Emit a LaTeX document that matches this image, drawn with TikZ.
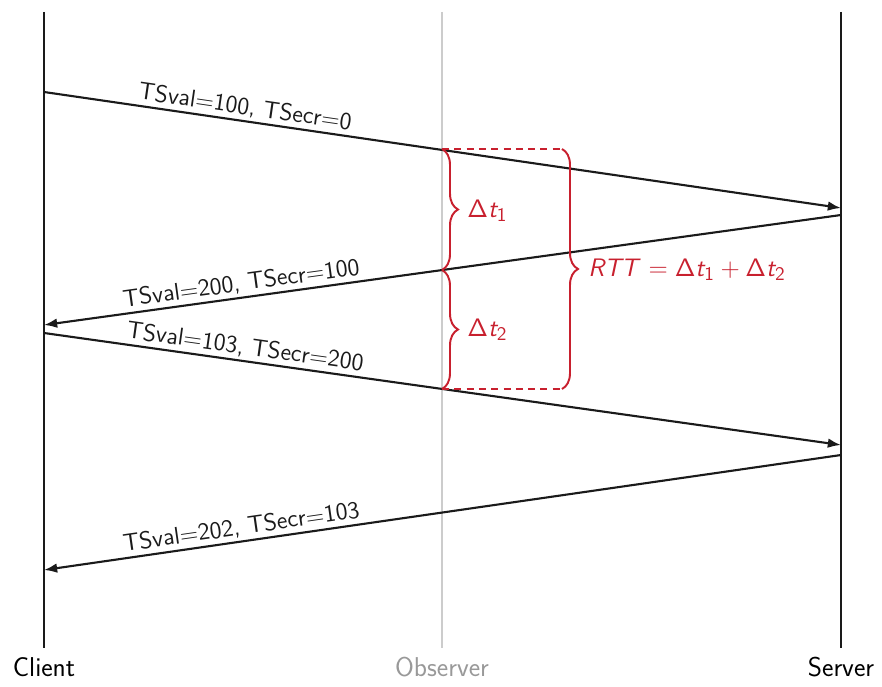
\documentclass[tikz,border=0pt]{standalone}
\usetikzlibrary{arrows.meta,decorations.pathreplacing}
\renewcommand{\familydefault}{\sfdefault}
\DeclareMathAlphabet{\mathsfup}{OT1}{cmss}{m}{n}
\DeclareMathAlphabet{\mathsfit}{OT1}{cmss}{m}{sl}
\newcommand{\dt}[1]{\mathsfup{\Delta}\mathsfit{t}_{\mathsfup{#1}}}
\definecolor{lineblack}{HTML}{1A1A1A}
\definecolor{observerline}{HTML}{CCCCCC}
\definecolor{observertext}{HTML}{999999}
\definecolor{rttred}{HTML}{C8202E}
\tikzset{
  lifeline/.style={draw=lineblack, line width=1.4pt},
  obsline/.style={draw=observerline, line width=1.2pt},
  msg/.style={draw=lineblack, line width=1.2pt, -{Latex[length=7.5pt,width=5.5pt]}},
  msglabel/.style={above, sloped, font=\fontsize{13.8}{16}\selectfont, text=lineblack, inner sep=1.5pt},
  endlabel/.style={anchor=base, font=\fontsize{15.5}{18}\selectfont},
  rttbrace/.style={draw=rttred, line width=1.1pt, decorate, decoration={brace, amplitude=3.2mm}},
  rttguide/.style={draw=rttred, line width=1pt, dash pattern=on 4pt off 3pt},
  rttlabel/.style={anchor=west, inner sep=0pt, text=rttred, font=\fontsize{15.5}{18}\selectfont},
}

\begin{document}
\begin{tikzpicture}[x=0.2mm, y=-0.2mm]
    \useasboundingbox (0,0) rectangle (882,687);
    % lifelines
    \coordinate (client top) at (44,12);
    \coordinate (client bottom) at (44,648);
    \coordinate (obs top) at (442,12);
    \coordinate (obs bottom) at (442,648);
    \coordinate (server top) at (841,12);
    \coordinate (server bottom) at (841,648);
    \draw[lifeline] (client top) -- (client bottom);
    \draw[obsline] (obs top) -- (obs bottom);
    \draw[lifeline] (server top) -- (server bottom);
    \node[endlabel] (client) at (44,676) {Client};
    \node[endlabel, text=observertext] (observer) at (442,676) {Observer};
    \node[endlabel] (server) at (841,676) {Server};
    % message end points
    \coordinate (c1) at (44,92);
    \coordinate (s1) at (841,208);
    \coordinate (s2) at (841,215);
    \coordinate (c2) at (44,325);
    \coordinate (c3) at (44,333);
    \coordinate (s3) at (841,445);
    \coordinate (s4) at (841,455);
    \coordinate (c4) at (44,570);
    \draw[msg] (c1) -- node[msglabel, pos=0.25] {TSval=100, TSecr=0} (s1);
    \draw[msg] (s2) -- node[msglabel, pos=0.75] {TSval=200, TSecr=100} (c2);
    \draw[msg] (c3) -- node[msglabel, pos=0.25] {TSval=103, TSecr=200} (s3);
    \draw[msg] (s4) -- node[msglabel, pos=0.75] {TSval=202, TSecr=103} (c4);
    % RTT at the observer
    \coordinate (o1) at (442,149);
    \coordinate (o2) at (442,270);
    \coordinate (o3) at (442,389);
    \coordinate (r1) at (562,149);
    \coordinate (r3) at (562,389);
    \draw[rttguide] (o1) -- (r1);
    \draw[rttguide] (o3) -- (r3);
    \draw[rttbrace] (o1) -- (o2);
    \draw[rttbrace] (o2) -- (o3);
    \draw[rttbrace] (r1) -- (r3);
    \node[rttlabel] (dt1) at (467,211) {$\dt{1}$};
    \node[rttlabel] (dt2) at (467,330) {$\dt{2}$};
    \node[rttlabel] (rtt) at (588,270) {$\mathsfit{RTT} = \dt{1} + \dt{2}$};
\end{tikzpicture}
\end{document}
